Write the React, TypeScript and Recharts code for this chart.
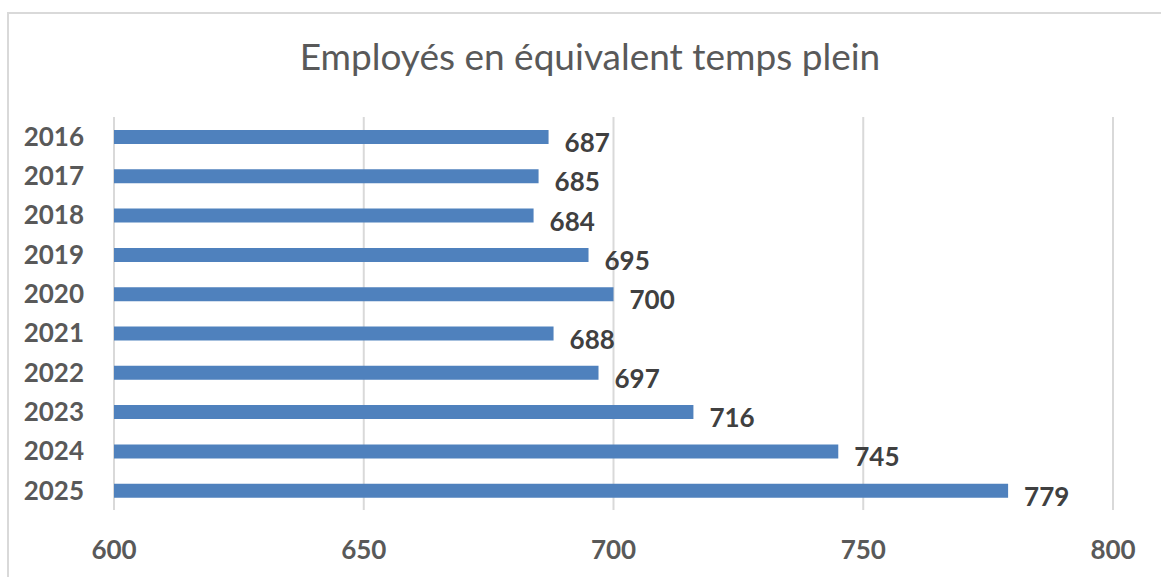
import React from 'react';
import { BarChart, Bar, XAxis, YAxis, CartesianGrid, LabelList } from 'recharts';

const years = ['2016', '2017', '2018', '2019', '2020', '2021', '2022', '2023', '2024', '2025'];
const employees = [687, 685, 684, 695, 700, 688, 697, 716, 745, 779];
const xTicks = [600, 650, 700, 750, 800];

const data = years.map((year, i) => ({ year, value: employees[i] }));

const FONT = 'Lato, "Open Sans", sans-serif';

// étiquette de valeur à droite de la barre, un peu plus bas que le centre
const renderValueLabel = (props: any) => {
  const { x, y, width, height, value } = props;
  return (
    <text
      x={x + width + 16}
      y={y + height / 2 + 5}
      dominantBaseline="central"
      textAnchor="start"
      fill="#404040"
      fontSize={26}
      fontWeight="bold"
      fontFamily={FONT}
    >
      {value}
    </text>
  );
};

export default function App() {
  return (
    <div style={{ position: 'absolute', left: 0, top: 0, width: 1161, height: 577, overflow: 'hidden', background: '#fff' }}>
      <div
        style={{
          position: 'absolute',
          left: 7,
          top: 12,
          width: 1180,
          height: 620,
          border: '2px solid #d9d9d9',
        }}
      />
      <div style={{ position: 'absolute', left: 0, top: 0 }}>
        <BarChart
          width={1161}
          height={577}
          data={data}
          layout="vertical"
          margin={{ top: 117, right: 48, bottom: 27, left: 0 }}
        >
          <text
            x={590}
            y={70}
            textAnchor="middle"
            fill="#595959"
            fontSize={37}
            fontFamily={FONT}
          >
            Employés en équivalent temps plein
          </text>
          <CartesianGrid horizontal={false} stroke="#d9d9d9" strokeWidth={2} />
          <XAxis
            type="number"
            domain={[600, 800]}
            ticks={xTicks}
            allowDataOverflow
            axisLine={false}
            tickLine={false}
            height={40}
            tickMargin={25}
            tick={{ fill: '#595959', fontSize: 26, fontWeight: 'bold', fontFamily: FONT }}
          />
          <YAxis
            type="category"
            dataKey="year"
            width={114}
            axisLine={false}
            tickLine={false}
            tickMargin={24}
            tick={{ fill: '#595959', fontSize: 26, fontWeight: 'bold', fontFamily: FONT }}
          />
          <Bar dataKey="value" fill="#4F81BD" barSize={14} isAnimationActive={false}>
            <LabelList dataKey="value" content={renderValueLabel} />
          </Bar>
        </BarChart>
      </div>
    </div>
  );
}
